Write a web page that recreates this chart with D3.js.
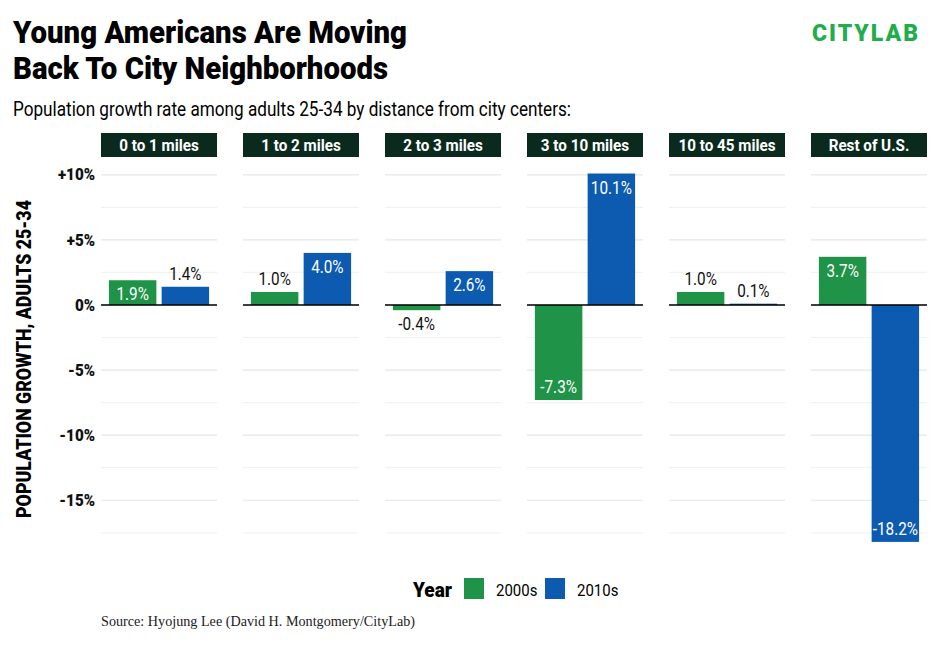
<!DOCTYPE html>
<html>
<head>
<meta charset="utf-8">
<script src="https://cdn.jsdelivr.net/npm/d3@7"></script>
<style>
  body { margin: 0; background: #fff; }
  text { font-family: Roboto, "Noto Sans", sans-serif; }
</style>
</head>
<body>
<svg id="chart" width="940" height="648"></svg>
<script>
const panels = ["0 to 1 miles", "1 to 2 miles", "2 to 3 miles", "3 to 10 miles", "10 to 45 miles", "Rest of U.S."];
const years = ["2000s", "2010s"];
const growth2000s = [1.9, 1.0, -0.4, -7.3, 1.0, 3.7];
const growth2010s = [1.4, 4.0, 2.6, 10.1, 0.1, -18.2];
const yTicks = [10, 5, 0, -5, -10, -15];
const yTickLabels = ["+10%", "+5%", "0%", "-5%", "-10%", "-15%"];

const colours = { "2000s": "#1f9347", "2010s": "#0c5bb1" };
const stripFill = "#0b2a1e";

const svg = d3.select("#chart");

// squeeze Roboto to look like the condensed face of the original
function condense(sel, f) {
    sel.each(function () {
        const w = this.getComputedTextLength();
        d3.select(this).attr("textLength", w * f).attr("lengthAdjust", "spacingAndGlyphs");
    });
}
function fitTo(sel, w) {
    sel.attr("textLength", w).attr("lengthAdjust", "spacingAndGlyphs");
}

// titles
svg.append("text").attr("x", 13).attr("y", 43)
    .attr("font-size", 31).attr("font-weight", "900").attr("fill", "#000")
    .text("Young Americans Are Moving").call(fitTo, 394);
svg.append("text").attr("x", 13).attr("y", 79)
    .attr("font-size", 31).attr("font-weight", "900").attr("fill", "#000")
    .text("Back To City Neighborhoods").call(fitTo, 375);
svg.append("text").attr("x", 13).attr("y", 116)
    .attr("font-size", 20).attr("fill", "#000")
    .text("Population growth rate among adults 25-34 by distance from city centers:").call(fitTo, 558);

// logo
svg.append("text").attr("x", 920).attr("y", 41).attr("text-anchor", "end")
    .attr("font-size", 23).attr("font-weight", "900").attr("letter-spacing", 2)
    .attr("fill", "#22ad4c").text("CITYLAB");

const panelScale = d3.scaleBand().domain(panels).range([101, 927]).paddingInner(0.183).paddingOuter(0);
const y = d3.scaleLinear().domain([-18.9, 10.6]).range([551, 167]);

const rows = panels.map((p, i) => ({ panel: p, values: [
    { year: "2000s", v: growth2000s[i] },
    { year: "2010s", v: growth2010s[i] }
]}));

// y axis labels
const yAxis = d3.axisLeft(y).tickValues(yTicks)
    .tickFormat((d, i) => yTickLabels[i]).tickSize(0).tickPadding(0);
svg.append("g").attr("transform", "translate(95,0)").call(yAxis)
    .call(g => g.select(".domain").remove())
    .selectAll("text")
    .attr("font-size", 16).attr("font-weight", "900").attr("fill", "#111")
    .attr("font-family", null)
    .call(condense, 0.95);

svg.append("text")
    .attr("transform", "translate(31,359) rotate(-90)")
    .attr("text-anchor", "middle").attr("font-size", 20).attr("font-weight", "900")
    .text("POPULATION GROWTH, ADULTS 25-34").call(fitTo, 318);

const panel = svg.selectAll(".panel").data(rows).join("g")
    .attr("class", "panel")
    .attr("transform", d => `translate(${panelScale(d.panel)},0)`);

const pw = panelScale.bandwidth();
const x = d3.scaleBand().domain(years).range([0, pw]).paddingInner(0.1).paddingOuter(0.15);

// gridlines
const gridVals = d3.range(-17.5, 10.01, 2.5);
panel.selectAll(".grid").data(gridVals).join("line")
    .attr("x1", 0).attr("x2", pw)
    .attr("y1", d => y(d)).attr("y2", d => y(d))
    .attr("stroke", d => d % 5 === 0 ? "#e6e6e6" : "#f2f2f2")
    .attr("stroke-width", 1.2);

// strip
panel.append("rect").attr("x", 0).attr("y", 133).attr("width", pw).attr("height", 24)
    .attr("fill", stripFill);
panel.append("text").attr("x", pw / 2).attr("y", 151).attr("text-anchor", "middle")
    .attr("fill", "#fff").attr("font-size", 16).attr("font-weight", "bold")
    .text(d => d.panel).call(condense, 0.95);

// bars
panel.selectAll(".bar").data(d => d.values).join("rect")
    .attr("class", "bar")
    .attr("x", d => x(d.year)).attr("width", x.bandwidth())
    .attr("y", d => y(Math.max(0, d.v)))
    .attr("height", d => Math.abs(y(d.v) - y(0)))
    .attr("fill", d => colours[d.year]);

// zero line
panel.append("line").attr("x1", 0).attr("x2", pw)
    .attr("y1", y(0)).attr("y2", y(0))
    .attr("stroke", "#000").attr("stroke-width", 1.5);

// value labels
const inside = d => Math.abs(d.v) >= 1.5;
panel.selectAll(".lbl").data(d => d.values).join("text")
    .attr("class", "lbl")
    .attr("x", d => x(d.year) + x.bandwidth() / 2)
    .attr("y", d => {
        if (inside(d)) return d.v > 0 ? y(d.v) + 20 : y(d.v) - 7;
        return d.v >= 0 ? y(d.v) - 7 : y(d.v) + 20;
    })
    .attr("text-anchor", "middle").attr("font-size", 18)
    .attr("fill", d => inside(d) ? "#fff" : "#111")
    .text(d => d.v.toFixed(1) + "%")
    .call(condense, 0.85);

// legend
const legend = svg.append("g");
legend.append("text").attr("x", 413).attr("y", 597).attr("font-size", 20)
    .attr("font-weight", "900").text("Year").call(fitTo, 39);
const lx = d3.scaleOrdinal().domain(years).range([464, 545]);
legend.selectAll("rect").data(years).join("rect")
    .attr("x", d => lx(d)).attr("y", 578).attr("width", 20).attr("height", 21)
    .attr("fill", d => colours[d]);
legend.selectAll(".lt").data(years).join("text").attr("class", "lt")
    .attr("x", d => lx(d) + 32).attr("y", 596).attr("font-size", 17)
    .text(d => d).call(condense, 0.88);

// source
svg.append("text").attr("x", 101).attr("y", 626)
    .style("font-family", "'Liberation Serif', serif")
    .attr("font-size", 14).attr("fill", "#222")
    .text("Source: Hyojung Lee (David H. Montgomery/CityLab)").call(fitTo, 314);
</script>
</body>
</html>
